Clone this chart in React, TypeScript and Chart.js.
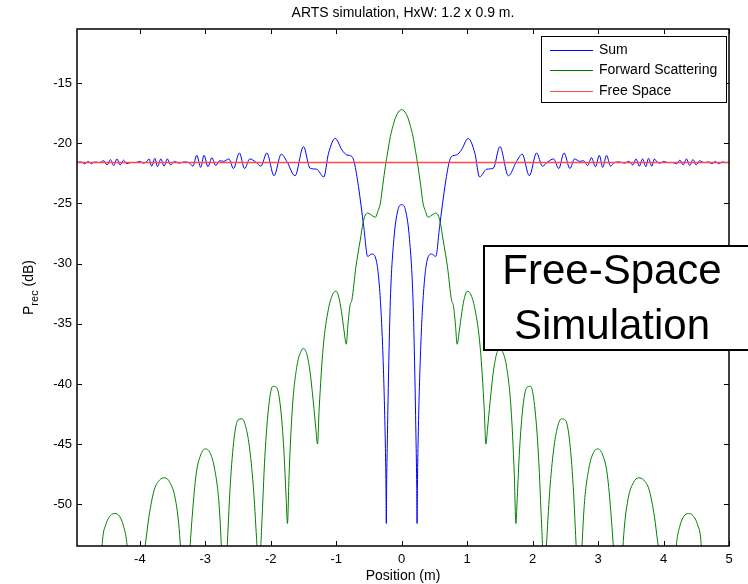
import React, { useEffect, useRef } from 'react';
import { Chart, registerables } from 'chart.js';
Chart.register(...registerables);

const titleText = 'ARTS simulation, HxW: 1.2 x 0.9 m.';
const xTitle = 'Position (m)';
const xTicks = [-4, -3, -2, -1, 0, 1, 2, 3, 4, 5];
const yTicks = [-50, -45, -40, -35, -30, -25, -20, -15];
const xMin = -4.96;
const xMax = 5;
const yMin = -53.47;
const yMax = -10.5;

const sumX = [
  -4.96, -4.9, -4.84, -4.79, -4.74, -4.69, -4.62, -4.55, -4.5, -4.45, -4.4, -4.35, -4.3, -4.25, -4.2, -4.14,
  -4.06, -4.0, -3.95, -3.9, -3.86, -3.82, -3.77, -3.73, -3.68, -3.63, -3.58, -3.53, -3.47, -3.4, -3.33, -3.25,
  -3.19, -3.13, -3.07, -3.02, -2.96, -2.9, -2.84, -2.78, -2.72, -2.64, -2.57, -2.48, -2.4, -2.32, -2.23, -2.15,
  -2.06, -1.95, -1.84, -1.755, -1.63, -1.5, -1.4, -1.3, -1.19, -1.118, -1.015, -0.913, -0.84, -0.76,
  -0.724, -0.66, -0.58, -0.52, -0.455, -0.39, -0.326, -0.28, -0.25, -0.24, -0.235, -0.23, -0.22, -0.2, -0.173,
  -0.12, -0.06, 0,
  0.06, 0.12, 0.173, 0.2, 0.22, 0.23, 0.235, 0.24, 0.25, 0.28, 0.326, 0.39, 0.455, 0.52, 0.58, 0.66, 0.724,
  0.76, 0.84, 0.913, 1.015, 1.118, 1.19, 1.3, 1.4, 1.5, 1.63, 1.755, 1.84, 1.95, 2.06, 2.15, 2.23, 2.32, 2.4,
  2.48, 2.57, 2.64, 2.72, 2.78, 2.84, 2.9, 2.96, 3.02, 3.07, 3.13, 3.19, 3.25, 3.33, 3.4, 3.47, 3.53,
  3.58, 3.63, 3.68, 3.73, 3.77, 3.82, 3.86, 3.9, 3.95, 4.0, 4.06, 4.14, 4.2, 4.25, 4.3, 4.35, 4.4, 4.45, 4.5,
  4.55, 4.62, 4.69, 4.74, 4.79, 4.84, 4.9, 4.96, 5.0,
];
const sumY = [
  -21.6, -21.55, -21.7, -21.5, -21.7, -21.55, -21.6, -21.45, -21.8, -21.35, -21.85, -21.3, -21.8, -21.4, -21.7, -21.6,
  -21.6, -21.5, -21.65, -21.55, -21.3, -21.9, -21.25, -21.95, -21.3, -21.9, -21.3, -21.8, -21.5, -21.65, -21.55, -21.6,
  -21.9, -21.0, -22.0, -21.0, -21.95, -21.2, -21.85, -21.45, -21.5, -21.3, -22.1, -20.8, -22.1, -21.3, -21.55, -21.9,
  -20.8, -22.7, -20.9, -21.5, -22.7, -20.27, -22.07, -22.15, -22.8, -20.83, -19.6, -20.55, -20.96, -21.1,
  -21.6, -23.6, -26.9, -29.4, -29.2, -29.7, -33.0, -38.6, -45.0, -48.5, -51.6, -48.5, -45.0, -39.0, -33.0,
  -28.0, -25.6, -25.1,
  -25.6, -28.0, -33.0, -39.0, -45.0, -48.5, -51.6, -48.5, -45.0, -38.6, -33.0, -29.7, -29.2, -29.4, -26.9, -23.6, -21.6,
  -21.1, -20.96, -20.55, -19.6, -20.83, -22.8, -22.15, -22.07, -20.27, -22.7, -21.5, -20.9, -22.7, -20.8, -21.9, -21.55, -21.3, -22.1,
  -20.8, -22.1, -21.3, -21.5, -21.45, -21.85, -21.2, -21.95, -21.0, -22.0, -21.0, -21.9, -21.6, -21.55, -21.65, -21.5, -21.8,
  -21.3, -21.9, -21.3, -21.95, -21.25, -21.9, -21.3, -21.55, -21.65, -21.5, -21.6, -21.6, -21.7, -21.4, -21.8, -21.3, -21.85, -21.35, -21.8,
  -21.45, -21.6, -21.55, -21.7, -21.5, -21.7, -21.55, -21.6, -21.6,
];

const fwdX = [
  -4.96, -4.88, -4.8, -4.72, -4.64, -4.6, -4.57, -4.52, -4.45, -4.38, -4.31, -4.25, -4.2, -4.16, -4.1, -4.0,
  -3.92, -3.86, -3.78, -3.7, -3.62, -3.54, -3.46, -3.4, -3.34, -3.3, -3.25, -3.2, -3.14, -3.07, -3.0, -2.93,
  -2.86, -2.79, -2.74, -2.71, -2.67, -2.62, -2.56, -2.5, -2.44, -2.38, -2.32, -2.26, -2.21, -2.18, -2.14, -2.09,
  -2.03, -1.97, -1.91, -1.85, -1.8, -1.765, -1.745, -1.72, -1.67, -1.6, -1.53, -1.5, -1.45, -1.4, -1.35, -1.31,
  -1.286, -1.26, -1.2, -1.12, -1.05, -1.0, -0.96, -0.92, -0.88, -0.847, -0.82, -0.79, -0.76, -0.7, -0.633,
  -0.59, -0.556, -0.52, -0.48, -0.44, -0.403, -0.36, -0.326, -0.29, -0.25, -0.21, -0.173, -0.135, -0.097, -0.05, 0,
  0.05, 0.097, 0.135, 0.173, 0.21, 0.25, 0.29, 0.326, 0.36, 0.403, 0.44, 0.48, 0.52, 0.556, 0.59, 0.633, 0.7,
  0.76, 0.79, 0.82, 0.847, 0.88, 0.92, 0.96, 1.0, 1.05, 1.12, 1.2, 1.26, 1.286, 1.31, 1.35, 1.4, 1.45, 1.5,
  1.53, 1.6, 1.67, 1.72, 1.745, 1.765, 1.8, 1.85, 1.91, 1.97, 2.03, 2.09, 2.14, 2.18, 2.21, 2.26, 2.32, 2.38,
  2.44, 2.5, 2.56, 2.62, 2.67, 2.71, 2.74, 2.79, 2.86, 2.93, 3.0, 3.07, 3.14, 3.2, 3.25, 3.3, 3.34, 3.4, 3.46,
  3.54, 3.62, 3.7, 3.78, 3.86, 3.92, 4.0, 4.1, 4.16, 4.2, 4.25, 4.31, 4.38, 4.45, 4.52, 4.57, 4.6, 4.64, 4.72,
  4.8, 4.88, 5.0,
];
const fwdY = [
  -56, -54.2, -54.5, -57, -62, -56, -53, -51.7, -50.95, -50.77, -51.0, -51.8, -53.2, -56, -62, -56,
  -53.5, -51, -48.8, -48.0, -47.8, -48.2, -49.5, -52, -57, -60, -55, -51, -47.5, -45.9, -45.4, -45.7,
  -47, -50, -55, -58, -54, -48.5, -44.5, -43.0, -42.9, -43.6, -45.5, -49, -53.5, -56, -52, -46,
  -41.8, -40.2, -40.3, -42, -45.5, -49.5, -51.6, -47.5, -42, -38.5, -37.2, -37.05, -37.5, -39, -41.5, -43.8,
  -45.0, -42, -37, -33.8, -32.5, -32.3, -32.8, -34, -35.6, -36.7, -35, -33.5, -33.0, -30.3, -28.04,
  -26.6, -25.96, -25.8, -25.9, -26.05, -26.15, -25.6, -24.98, -23.5, -21.94, -20.6, -19.44, -18.6, -17.91, -17.4, -17.2,
  -17.4, -17.91, -18.6, -19.44, -20.6, -21.94, -23.5, -24.98, -25.6, -26.15, -26.05, -25.9, -25.8, -25.96, -26.6, -28.04, -30.3,
  -33.0, -33.5, -35, -36.7, -35.6, -34, -32.8, -32.3, -32.5, -33.8, -37, -42, -45.0, -43.8, -41.5, -39, -37.5, -37.05,
  -37.2, -38.5, -42, -47.5, -51.6, -49.5, -45.5, -42, -40.3, -40.2, -41.8, -46, -52, -56, -53.5, -49, -45.5, -43.6,
  -42.9, -43.0, -44.5, -48.5, -54, -58, -55, -50, -47, -45.7, -45.4, -45.9, -47.5, -51, -55, -60, -57, -52, -49.5,
  -48.2, -47.8, -48.0, -48.8, -51, -53.5, -56, -62, -56, -53.2, -51.8, -51.0, -50.77, -50.95, -51.7, -53, -56, -62, -57,
  -54.5, -54.2, -56,
];

const freeX = [-4.96, 5.0];
const freeY = [-21.6, -21.6];

const seriesNames = ['Sum', 'Forward Scattering', 'Free Space'];
const seriesColors = ['#0000ff', '#008000', '#ff4a4a'];
const boxLines = ['Free-Space', 'Simulation'];

const FONT = "'Liberation Sans', Arial, Helvetica, sans-serif";

const toPts = (xs: number[], ys: number[]) => xs.map((x, i) => ({ x, y: ys[i] }));

const decorPlugin = {
  id: 'decor',
  afterDraw(chart: any) {
    const { ctx, chartArea: ca } = chart;
    const xs = chart.scales.x;
    const ys = chart.scales.y;
    ctx.save();
    // frame
    ctx.strokeStyle = '#000';
    ctx.lineWidth = 1.5;
    ctx.strokeRect(ca.left, ca.top, ca.right - ca.left, ca.bottom - ca.top);
    // inward ticks
    ctx.lineWidth = 1;
    ctx.beginPath();
    const tl = 5;
    xTicks.forEach((v) => {
      const px = Math.round(xs.getPixelForValue(v)) + 0.5;
      ctx.moveTo(px, ca.bottom);
      ctx.lineTo(px, ca.bottom - tl);
      ctx.moveTo(px, ca.top);
      ctx.lineTo(px, ca.top + tl);
    });
    yTicks.forEach((v) => {
      const py = Math.round(ys.getPixelForValue(v)) + 0.5;
      ctx.moveTo(ca.left, py);
      ctx.lineTo(ca.left + tl, py);
      ctx.moveTo(ca.right, py);
      ctx.lineTo(ca.right - tl, py);
    });
    ctx.stroke();

    // x title
    ctx.fillStyle = '#000';
    ctx.font = `14px ${FONT}`;
    ctx.textAlign = 'center';
    ctx.textBaseline = 'alphabetic';
    ctx.fillText(xTitle, (ca.left + ca.right) / 2, 580);

    // y title with subscript
    ctx.save();
    ctx.translate(33, (ca.top + ca.bottom) / 2);
    ctx.rotate(-Math.PI / 2);
    ctx.textAlign = 'left';
    const big = `14px ${FONT}`;
    const small = `11px ${FONT}`;
    ctx.font = big;
    const wP = ctx.measureText('P').width;
    const wTail = ctx.measureText(' (dB)').width;
    ctx.font = small;
    const wSub = ctx.measureText('rec').width;
    let cx = -(wP + wSub + wTail) / 2;
    ctx.font = big;
    ctx.fillText('P', cx, 0);
    cx += wP;
    ctx.font = small;
    ctx.fillText('rec', cx, 5);
    cx += wSub;
    ctx.font = big;
    ctx.fillText(' (dB)', cx, 0);
    ctx.restore();

    // legend
    const lx = 541, ly = 36, lw = 185, lh = 66;
    ctx.fillStyle = '#fff';
    ctx.fillRect(lx, ly, lw, lh);
    ctx.strokeStyle = '#000';
    ctx.lineWidth = 1;
    ctx.strokeRect(lx + 0.5, ly + 0.5, lw, lh);
    ctx.font = `14px ${FONT}`;
    ctx.textAlign = 'left';
    ctx.textBaseline = 'middle';
    chart.data.datasets.forEach((ds: any, i: number) => {
      const yy = Math.round(ly + 13.5 + i * 20.7) + 0.5;
      ctx.strokeStyle = seriesColors[i];
      ctx.lineWidth = 1;
      ctx.beginPath();
      ctx.moveTo(550, yy);
      ctx.lineTo(593, yy);
      ctx.stroke();
      ctx.fillStyle = '#000';
      ctx.fillText(ds.label, 599, yy);
    });

    // annotation box
    const bx = 484, by = 246, bw = 290, bh = 104;
    ctx.fillStyle = '#fff';
    ctx.fillRect(bx, by, bw, bh);
    ctx.strokeStyle = '#000';
    ctx.lineWidth = 2;
    ctx.strokeRect(bx, by, bw, bh);
    ctx.fillStyle = '#000';
    ctx.font = `42px ${FONT}`;
    ctx.textAlign = 'center';
    ctx.textBaseline = 'middle';
    ctx.fillText(boxLines[0], 612, 272);
    ctx.fillText(boxLines[1], 612, 327);
    ctx.restore();
  },
};

export default function App() {
  const ref = useRef<HTMLCanvasElement | null>(null);
  useEffect(() => {
    if (!ref.current) return;
    const chart = new Chart(ref.current, {
      type: 'line',
      data: {
        datasets: [
          {
            label: seriesNames[0],
            data: toPts(sumX, sumY),
            borderColor: seriesColors[0],
            borderWidth: 1,
            pointRadius: 0,
            cubicInterpolationMode: 'monotone',
            order: 3,
          },
          {
            label: seriesNames[1],
            data: toPts(fwdX, fwdY),
            borderColor: seriesColors[1],
            borderWidth: 1,
            pointRadius: 0,
            cubicInterpolationMode: 'monotone',
            order: 2,
          },
          {
            label: seriesNames[2],
            data: toPts(freeX, freeY),
            borderColor: seriesColors[2],
            borderWidth: 1.5,
            pointRadius: 0,
            order: 1,
          },
        ],
      },
      options: {
        responsive: false,
        animation: false,
        events: [],
        layout: { padding: { left: 0, right: 19, top: 0, bottom: 0 } },
        plugins: {
          legend: { display: false },
          tooltip: { enabled: false },
          title: {
            display: true,
            text: titleText,
            fullSize: false,
            color: '#000',
            font: { family: FONT, size: 14, weight: 'normal', lineHeight: 1.2 },
            padding: { top: 5, bottom: 7.2 },
          },
        },
        scales: {
          x: {
            type: 'linear',
            min: xMin,
            max: xMax,
            afterBuildTicks: (s: any) => {
              s.ticks = xTicks.map((v) => ({ value: v }));
            },
            afterFit: (s: any) => {
              s.height = 38;
            },
            grid: { display: false, drawTicks: false },
            border: { display: false },
            ticks: {
              color: '#000',
              font: { family: FONT, size: 13 },
              padding: 6,
              maxRotation: 0,
              autoSkip: false,
            },
          },
          y: {
            type: 'linear',
            min: yMin,
            max: yMax,
            afterBuildTicks: (s: any) => {
              s.ticks = yTicks.map((v) => ({ value: v }));
            },
            afterFit: (s: any) => {
              s.width = 77;
            },
            grid: { display: false, drawTicks: false },
            border: { display: false },
            ticks: {
              color: '#000',
              font: { family: FONT, size: 13 },
              padding: 5,
              autoSkip: false,
            },
          },
        },
      },
      plugins: [decorPlugin],
    });
    return () => chart.destroy();
  }, []);
  return (
    <div style={{ position: 'absolute', left: 0, top: 0, width: 748, height: 584, background: '#fff' }}>
      <canvas ref={ref} width={748} height={584} style={{ display: 'block' }} />
    </div>
  );
}
